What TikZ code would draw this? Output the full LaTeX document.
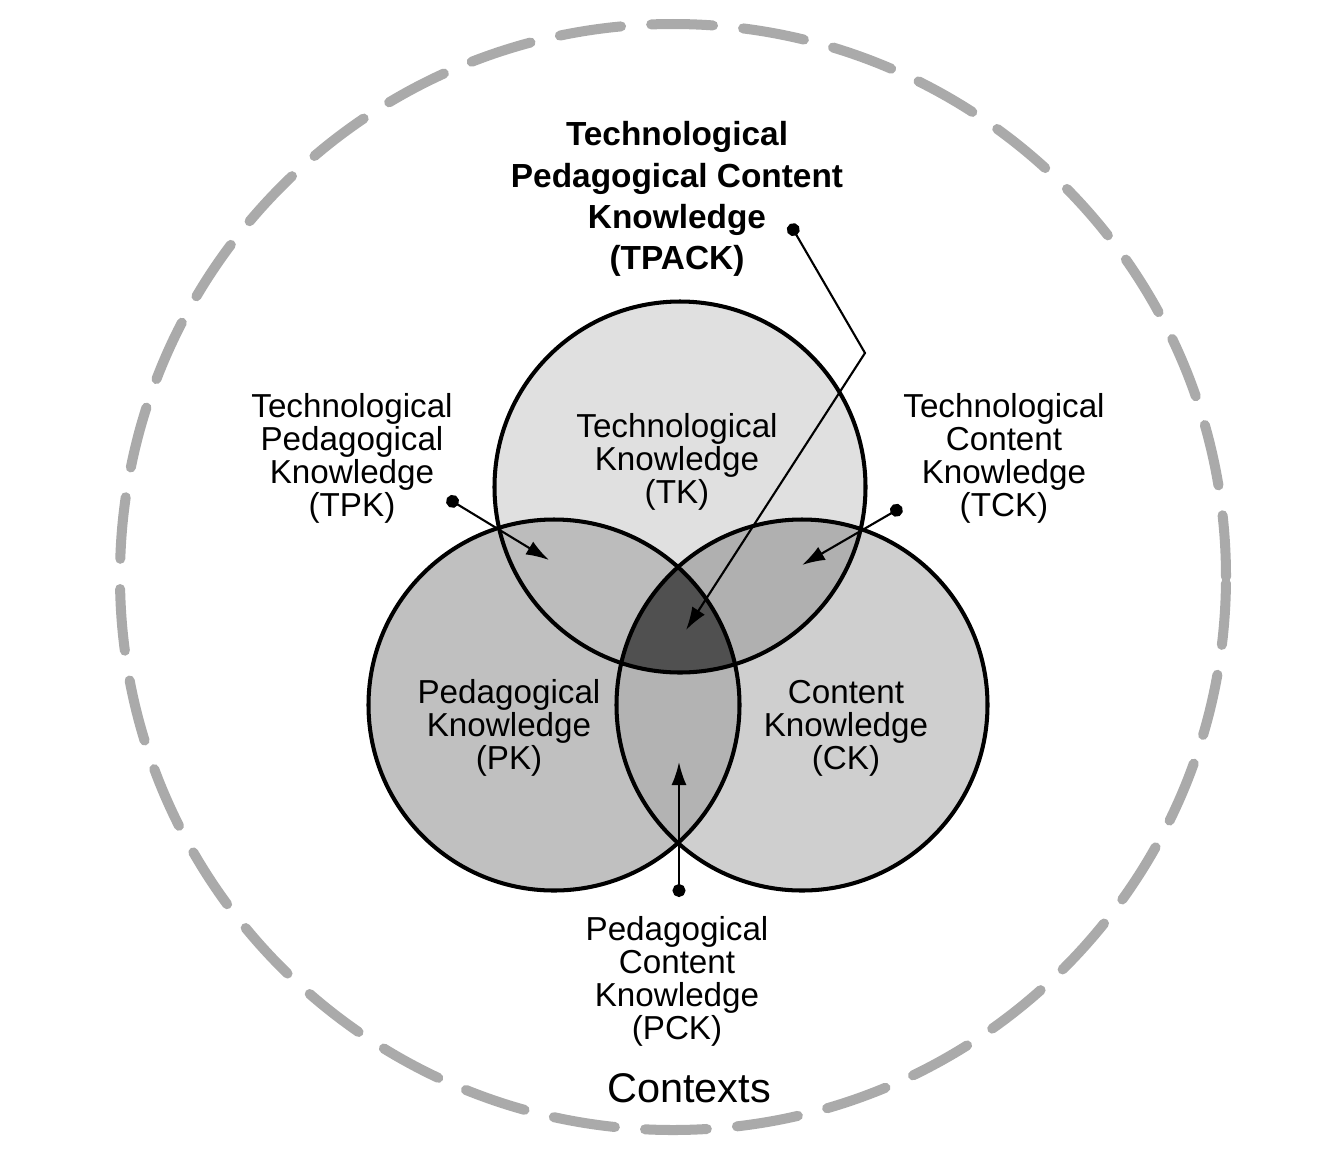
\documentclass[tikz,border=0pt]{standalone}
\usepackage{fontspec}
\setmainfont{Liberation Sans}
\usepackage{tikz}
\usetikzlibrary{arrows.meta,calc}
\definecolor{tkgray}{RGB}{224,224,224}
\definecolor{pkgray}{RGB}{192,192,192}
\definecolor{ckgray}{RGB}{207,207,207}
\definecolor{tpgray}{RGB}{188,188,188}
\definecolor{tcgray}{RGB}{176,176,176}
\definecolor{pcgray}{RGB}{179,179,179}
\definecolor{tpackgray}{RGB}{80,80,80}
\definecolor{ctxgray}{RGB}{170,170,170}
\tikzset{
  ring/.style={draw=black, line width=1.15pt},
  ctxring/.style={draw=ctxgray, line width=2.85pt, line cap=round,
                  dash pattern=on 17.6pt off 8.6pt},
  lbl/.style={align=center, font=\fontsize{9.45}{9.4}\selectfont, inner sep=0pt},
  biglbl/.style={align=center, font=\fontsize{9.5}{11.7}\selectfont\bfseries, inner sep=0pt},
  pointer/.style={{Circle[length=1.3mm]}-{Latex[length=2.3mm,width=1.5mm]}, line width=0.6pt}
}
\newcommand{\rad}{1.855}

\begin{document}
\begin{tikzpicture}
    \useasboundingbox (0,0) rectangle (13.36,-11.54);
    \coordinate (ctx) at (6.73,-5.77);
    \coordinate (tk) at (6.80,-4.87);
    \coordinate (pk) at (5.54,-7.05);
    \coordinate (ck) at (8.02,-7.05);
    % contexts ring
    \draw[ctxring] (ctx) circle (5.53);
    % the three sets and their overlaps
    \fill[tkgray] (tk) circle (\rad);
    \fill[pkgray] (pk) circle (\rad);
    \fill[ckgray] (ck) circle (\rad);
    \begin{scope}
      \clip (tk) circle (\rad);
      \fill[tpgray] (pk) circle (\rad);
      \fill[tcgray] (ck) circle (\rad);
    \end{scope}
    \begin{scope}
      \clip (pk) circle (\rad);
      \fill[pcgray] (ck) circle (\rad);
      \clip (tk) circle (\rad);
      \fill[tpackgray] (ck) circle (\rad);
    \end{scope}
    \draw[ring] (tk) circle (\rad);
    \draw[ring] (pk) circle (\rad);
    \draw[ring] (ck) circle (\rad);
    % labels
    \node[biglbl] (tpack) at (6.77,-1.99) {Technological\\ Pedagogical Content\\ Knowledge\\ (TPACK)};
    \node[lbl] (tklbl) at (6.77,-4.62) {Technological\\ Knowledge\\ (TK)};
    \node[lbl] (tpk) at (3.52,-4.585) {Technological\\ Pedagogical\\ Knowledge\\ (TPK)};
    \node[lbl] (tck) at (10.04,-4.585) {Technological\\ Content\\ Knowledge\\ (TCK)};
    \node[lbl] (pklbl) at (5.09,-7.28) {Pedagogical\\ Knowledge\\ (PK)};
    \node[lbl] (cklbl) at (8.46,-7.28) {Content\\ Knowledge\\ (CK)};
    \node[lbl] (pck) at (6.77,-9.815) {Pedagogical\\ Content\\ Knowledge\\ (PCK)};
    \node[lbl, font=\fontsize{11.8}{12}\selectfont] (context) at (6.89,-10.88) {Contexts};
    % pointers
    \coordinate (tpackdot) at (7.90,-2.24);
    \coordinate (tpackbend) at (8.65,-3.53);
    \coordinate (tpacktip) at (6.86,-6.30);
    \coordinate (tpkdot) at (4.47,-4.98);
    \coordinate (tpktip) at (5.49,-5.60);
    \coordinate (tckdot) at (9.02,-5.07);
    \coordinate (tcktip) at (8.02,-5.65);
    \coordinate (pckdot) at (6.79,-8.97);
    \coordinate (pcktip) at (6.79,-7.62);
    \draw[pointer] (tpackdot) -- (tpackbend) -- (tpacktip);
    \draw[pointer] (tpkdot) -- (tpktip);
    \draw[pointer] (tckdot) -- (tcktip);
    \draw[pointer] (pckdot) -- (pcktip);
\end{tikzpicture}
\end{document}
